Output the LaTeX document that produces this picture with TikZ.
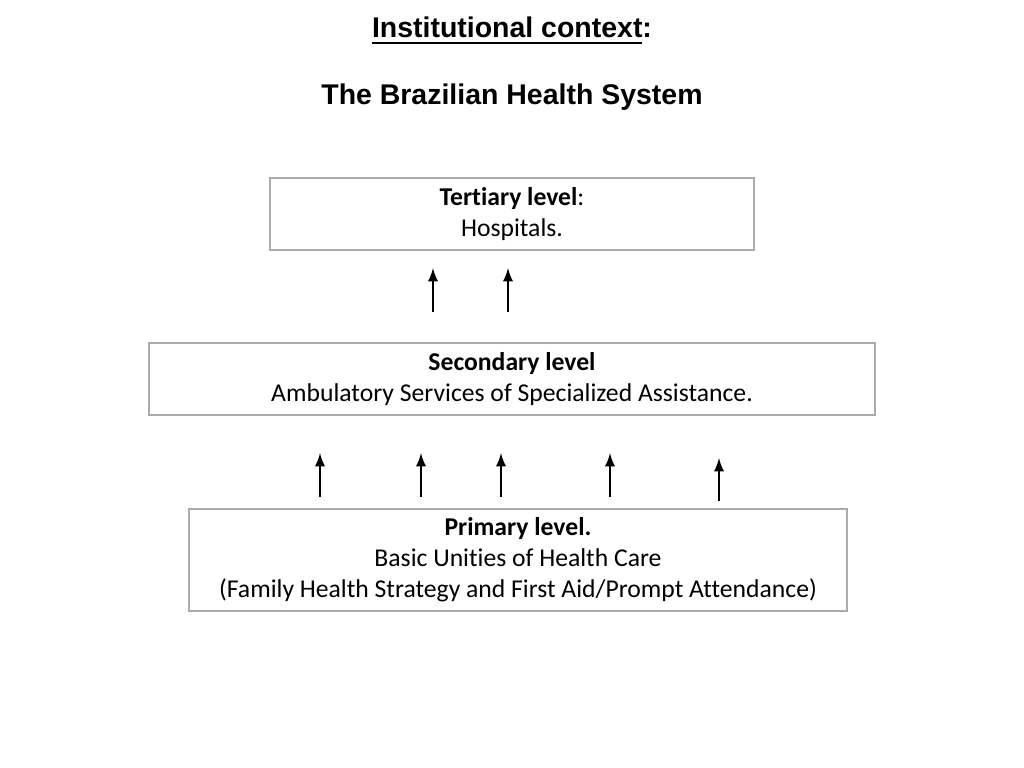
\documentclass[tikz,border=0pt]{standalone}
\usepackage{fontspec}
\setmainfont[Ligatures=NoCommon]{Carlito}
\newfontfamily\titlefont{Liberation Sans}
\usetikzlibrary{arrows}

\begin{document}
\begin{tikzpicture}[
  level/.style={draw=black!33,line width=0.45pt,align=center,inner sep=0pt,
    font=\fontsize{7.3}{8.8}\selectfont},
  heading/.style={font=\titlefont\bfseries\fontsize{8.1}{9.7}\selectfont},
  up/.style={-latex,line width=0.33pt}]
\useasboundingbox (0,0) rectangle (10.24,7.68);
\node[heading] (T1) at (5.12,7.37) {\underline{Institutional context}:};
\node[heading] (T2) at (5.12,6.71) {The Brazilian Health System};
\node[level,minimum width=4.84cm,minimum height=0.72cm] (tert) at (5.12,5.54) {\textbf{Tertiary level}:\\Hospitals.};
\node[level,minimum width=7.26cm,minimum height=0.72cm] (sec) at (5.12,3.89) {\textbf{Secondary level}\\Ambulatory Services of Specialized Assistance.};
\node[level,minimum width=6.58cm,minimum height=1.02cm] (prim) at (5.18,2.08) {\textbf{Primary level.}\\Basic Unities of Health Care\\(Family Health Strategy and First Aid/Prompt Attendance)};
% arrows to tertiary level
\foreach \x [count=\i] in {4.33,5.08} {
  \coordinate (s\i) at (\x,4.56);
  \coordinate (t\i) at (\x,5.00);
  \draw[up] (s\i) -- (t\i);
}
% arrows to secondary level
\foreach \x/\ya/\yb [count=\i] in {3.20/2.71/3.15,4.21/2.71/3.15,5.01/2.71/3.15,6.10/2.71/3.15,7.19/2.67/3.10} {
  \coordinate (p\i) at (\x,\ya);
  \coordinate (q\i) at (\x,\yb);
  \draw[up] (p\i) -- (q\i);
}
\end{tikzpicture}
\end{document}
